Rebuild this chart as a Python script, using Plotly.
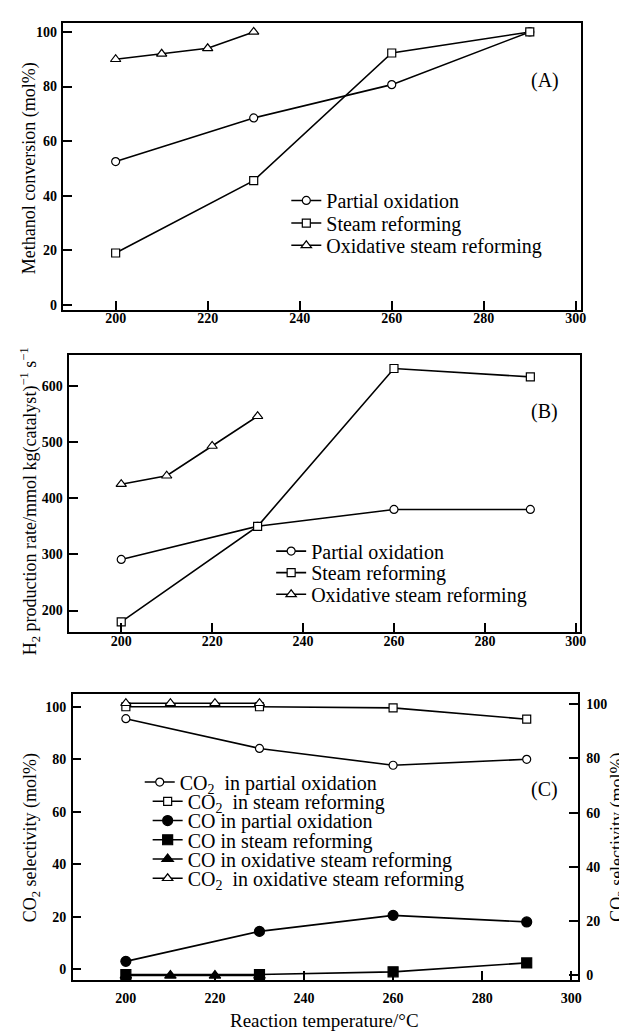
import plotly.graph_objects as go

W, H = 627, 1031

# ---------------- data ----------------
temps = [200, 230, 260, 290]
temps_osr = [200, 210, 220, 230]

# (A) Methanol conversion (mol%)
conv_po = [52.5, 68.5, 80.7, 100]
conv_sr = [19.0, 45.5, 92.3, 100]
conv_osr = [90.0, 92.0, 94.0, 100]

# (B) H2 production rate
h2_po = [291, 350, 380, 380]
h2_sr = [180, 350, 631, 616]
h2_osr = [425, 440, 493, 546]

# (C) CO selectivity (left axis, mol%)
co_po = [3.1, 14.5, 20.6, 18.1]
co_sr = [-1.9, -1.9, -0.9, 2.5]
co_osr = [-2.3, -2.3, -2.3, -2.3]
# (C) CO2 selectivity (right axis, mol%)
co2_po = [94.7, 83.7, 77.5, 79.7]
co2_sr = [99.1, 99.1, 98.7, 94.5]
co2_osr = [100.4, 100.4, 100.4, 100.4]

x_ticks = [200, 220, 240, 260, 280, 300]

names_ab = ["Partial oxidation", "Steam reforming", "Oxidative steam reforming"]
names_c = [
    "CO<sub>2</sub>  in partial oxidation",
    "CO<sub>2</sub>  in steam reforming",
    "CO in partial oxidation",
    "CO in steam reforming",
    "CO in oxidative steam reforming",
    "CO<sub>2</sub>  in oxidative steam reforming",
]

SERIF = "Liberation Serif, 'Times New Roman', Times, serif"
BLACK = "black"


def px_x(p):
    return p / W


def px_y(p):
    return 1 - p / H


def marker(sym, filled, size):
    return dict(symbol=sym, size=size, color=BLACK if filled else "white",
                line=dict(color=BLACK, width=1.2))


fig = go.Figure()

open_circle = marker("circle", False, 8)
open_square = marker("square", False, 8)
open_tri = marker("triangle-up", False, 9)
fill_circle = marker("circle", True, 10)
fill_square = marker("square", True, 10)
fill_tri = marker("triangle-up", True, 10)

line = dict(color=BLACK, width=1.6)

# Panel A
series_a = [(temps, conv_po, open_circle), (temps, conv_sr, open_square), (temps_osr, conv_osr, open_tri)]
for i, (xs, ys, mk) in enumerate(series_a):
    fig.add_trace(go.Scatter(x=xs, y=ys, mode="lines+markers", marker=mk, line=line,
                             name=names_ab[i], xaxis="x", yaxis="y",
                             legend="legend" if i == 0 else f"legend{i+1}"))
# Panel B
series_b = [(temps, h2_po, open_circle), (temps, h2_sr, open_square), (temps_osr, h2_osr, open_tri)]
for i, (xs, ys, mk) in enumerate(series_b):
    fig.add_trace(go.Scatter(x=xs, y=ys, mode="lines+markers", marker=mk, line=line,
                             name=names_ab[i], xaxis="x2", yaxis="y2",
                             legend=f"legend{i+4}"))
# Panel C
series_c = [(temps, co2_po, open_circle, "y4"), (temps, co2_sr, open_square, "y4"),
            (temps, co_po, fill_circle, "y3"), (temps, co_sr, fill_square, "y3"),
            (temps_osr, co_osr, fill_tri, "y3"), (temps_osr, co2_osr, open_tri, "y4")]
for i, (xs, ys, mk, yax_id) in enumerate(series_c):
    fig.add_trace(go.Scatter(x=xs, y=ys, mode="lines+markers", marker=mk, line=line,
                             name=names_c[i], xaxis="x3", yaxis=yax_id,
                             legend=f"legend{i+7}"))

tickfont = dict(family=SERIF, size=14, color=BLACK, weight="bold")


def xax(dom, rng, anchor, standoff=0):
    return dict(domain=dom, range=rng, anchor=anchor, tickvals=x_ticks, ticks="inside",
                ticklen=9, tickwidth=1.5, tickcolor=BLACK, showline=True, linecolor=BLACK,
                linewidth=1.5, mirror=True, showgrid=False, zeroline=False,
                tickfont=tickfont, ticklabelstandoff=standoff)


def yax(dom, rng, anchor, tickvals, side="left", standoff=2, **kw):
    d = dict(range=rng, anchor=anchor, tickvals=tickvals, ticks="inside",
             ticklen=9, tickwidth=1.5, tickcolor=BLACK, showline=True, linecolor=BLACK,
             linewidth=1.5, mirror=True, showgrid=False, zeroline=False,
             tickfont=tickfont, side=side, ticklabelstandoff=standoff)
    if dom is not None:
        d["domain"] = dom
    d.update(kw)
    return d


layout = dict(
    width=W, height=H, autosize=False, showlegend=True,
    margin=dict(l=0, r=0, t=0, b=0, pad=0),
    paper_bgcolor="white", plot_bgcolor="white",
    font=dict(family=SERIF, color=BLACK),
    xaxis=xax([px_x(56), px_x(579)], [188.66, 301.23], "y", standoff=-6),
    yaxis=yax([px_y(303), px_y(15)], [-1.94, 103.3], "x", [0, 20, 40, 60, 80, 100]),
    xaxis2=xax([px_x(62), px_x(577.7)], [188.6, 300.96], "y2", standoff=-5),
    yaxis2=yax([px_y(626), px_y(348.3)], [161.5, 654.5], "x2", [200, 300, 400, 500, 600]),
    xaxis3=xax([px_x(65.3), px_x(575.3)], [188.06, 301.47], "y3", standoff=4),
    yaxis3=yax([px_y(975), px_y(688.3)], [-4.06, 104.7], "x3", [0, 20, 40, 60, 80, 100]),
    yaxis4=yax(None, [-1.84, 103.7], "x3", [0, 20, 40, 60, 80, 100], side="right",
               standoff=4, overlaying="y3"),
)

# per-row legends (text start x, row centre y, font size)
rows = [(328, 200, 20), (328, 222.7, 20), (328, 245, 20),
        (312.7, 551.7, 20), (312.7, 573.3, 20), (312.7, 595, 20),
        (180, 783.3, 20), (188, 802.6, 20), (188, 821.9, 20),
        (188, 841.2, 20), (188, 860.5, 20), (188, 879.8, 20)]
for k, (tx, ty, fs) in enumerate(rows):
    key = "legend" if k == 0 else f"legend{k+1}"
    layout[key] = dict(x=px_x(tx - 47), y=px_y(ty - 7), xanchor="left", yanchor="middle",
                       bgcolor="rgba(0,0,0,0)", borderwidth=0, itemwidth=30,
                       font=dict(family=SERIF, size=fs, color=BLACK))

ann = []


def add_ann(text, x, y, angle=0, size=18):
    ann.append(dict(text=text, xref="paper", yref="paper", x=px_x(x), y=px_y(y),
                    xanchor="center", yanchor="middle", showarrow=False, textangle=angle,
                    font=dict(family=SERIF, size=size, color=BLACK)))


add_ann("Methanol conversion (mol%)", 22, 161, -90)
add_ann("H<sub>2</sub> production rate/mmol kg(catalyst)<sup>−1</sup> s<sup>−1</sup>", 22, 495, -90)
add_ann("CO<sub>2</sub> selectivity (mol%)", 24, 832, -90)
add_ann("CO<sub>2</sub> selectivity (mol%)", 616, 832, -90)
add_ann("Reaction temperature/°C", 320, 1015, 0, 19)
add_ann("(A)", 542, 73, 0, 20)
add_ann("(B)", 542, 405, 0, 20)
add_ann("(C)", 542, 784, 0, 20)
layout["annotations"] = ann

fig.update_layout(**layout)
fig.write_html("out.html")
